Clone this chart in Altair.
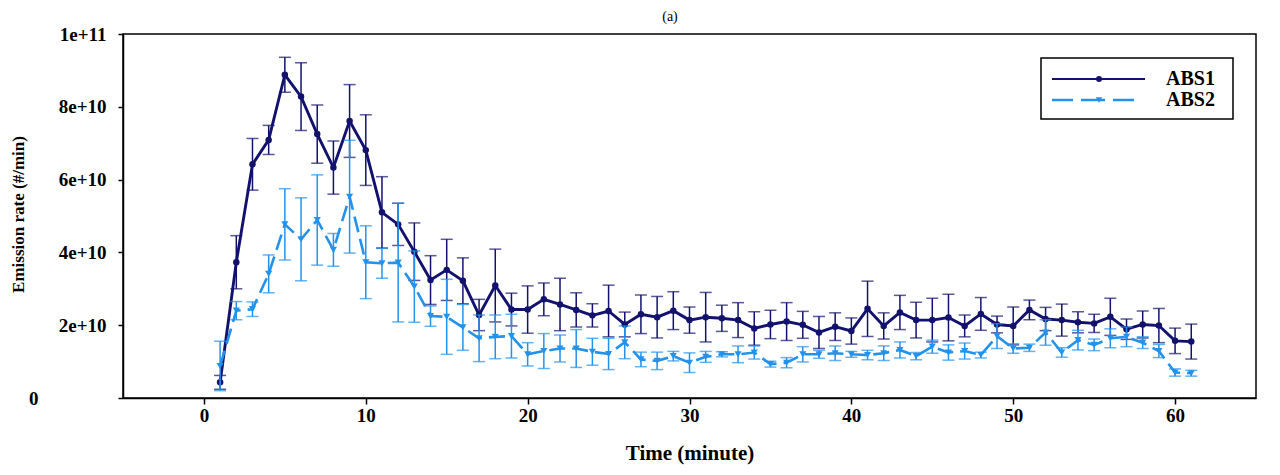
import altair as alt
import pandas as pd

minutes = list(range(1, 62))
abs1 = [4.3, 37.3, 64.2, 70.9, 88.8, 82.8, 72.5, 63.3, 76.1, 68.1, 51.0, 47.7, 40.2, 32.4, 35.2, 32.2,
        22.8, 30.9, 24.3, 24.3, 27.1, 25.7, 24.2, 22.7, 23.9, 20.2, 23.0, 22.2, 24.0, 21.4, 22.2, 21.9,
        21.4, 19.1, 20.2, 21.0, 20.1, 18.0, 19.6, 18.4, 24.5, 19.8, 23.5, 21.4, 21.4, 22.1, 19.8, 23.1,
        20.2, 19.8, 24.2, 21.7, 21.4, 20.8, 20.5, 22.3, 18.9, 20.2, 19.9, 15.7, 15.5]
abs1_err = [1.9, 7.3, 7.1, 4.0, 4.8, 9.3, 8.0, 7.3, 10.0, 9.7, 9.8, 5.8, 7.9, 6.7, 8.4, 6.3,
            4.3, 10.0, 4.5, 6.5, 4.5, 7.2, 4.7, 3.2, 7.1, 3.4, 5.3, 5.7, 5.2, 3.6, 6.8, 3.6,
            4.8, 4.6, 3.9, 5.2, 3.7, 4.4, 3.8, 3.6, 7.6, 3.6, 4.7, 4.9, 6.0, 6.4, 3.0, 4.5,
            2.3, 5.2, 2.7, 3.2, 4.4, 2.9, 2.5, 5.1, 2.8, 3.7, 4.7, 3.5, 4.8]
abs2 = [8.8, 24.0, 24.4, 34.1, 47.7, 43.6, 48.9, 40.7, 55.3, 37.3, 37.0, 37.2, 30.6, 22.5, 22.3, 19.4,
        16.4, 16.8, 17.0, 12.0, 12.9, 13.6, 13.6, 12.7, 12.1, 15.3, 10.6, 10.2, 11.5, 9.7, 11.3, 12.0,
        12.0, 12.5, 9.3, 9.7, 12.0, 12.0, 12.3, 12.0, 11.8, 12.3, 13.2, 11.5, 14.1, 12.5, 12.9, 11.8,
        17.0, 13.6, 13.8, 18.0, 12.5, 15.9, 14.6, 16.4, 16.8, 15.2, 12.9, 7.0, 6.8]
abs2_err = [6.8, 2.5, 2.0, 5.2, 9.8, 11.4, 12.4, 4.5, 15.5, 10.0, 4.1, 16.3, 9.8, 2.8, 10.3, 6.3,
            6.4, 6.0, 6.0, 3.2, 4.8, 3.7, 5.2, 3.7, 4.3, 4.5, 2.0, 2.4, 1.3, 2.7, 1.5, 0.7,
            2.3, 1.8, 0.8, 1.4, 2.1, 1.1, 2.0, 0.8, 1.3, 2.0, 2.2, 1.0, 1.8, 2.1, 2.2, 0.8,
            3.4, 1.3, 1.0, 3.5, 1.3, 2.7, 1.6, 2.6, 2.7, 1.6, 1.8, 1.0, 0.8]
series_names = ["ABS1", "ABS2"]
x_ticks = [0, 10, 20, 30, 40, 50, 60]
y_ticks = [0, 2e10, 4e10, 6e10, 8e10, 1e11]
UNIT = 1e9

rows = []
for name, vals, errs in [("ABS1", abs1, abs1_err), ("ABS2", abs2, abs2_err)]:
    for m, v, e in zip(minutes, vals, errs):
        rows.append({"series": name, "minute": m, "value": v * UNIT,
                     "lo": (v - e) * UNIT, "hi": (v + e) * UNIT})
df = pd.DataFrame(rows)

colors = {"ABS1": "#12126e", "ABS2": "#2392ec"}
FONT = "Liberation Serif"

xaxis = alt.Axis(values=x_ticks, title="Time (minute)", grid=False, tickSize=6, tickWidth=1.5,
                 tickColor="black", domainColor="black", domainWidth=1.5,
                 labelFont=FONT, labelFontWeight="bold", labelFontSize=19, labelColor="black",
                 labelPadding=2, labelFlush=False,
                 titleFont=FONT, titleFontWeight="bold", titleFontSize=21, titleColor="black",
                 titlePadding=17)
yaxis = alt.Axis(values=y_ticks, title="Emission rate (#/min)", grid=False, tickSize=5, tickWidth=1.5,
                 tickColor="black", domainColor="black", domainWidth=1.5,
                 labelExpr="datum.value == 0 ? '0' : (datum.value >= 1e11 ? '1e+11' : format(datum.value / 1e10, 'd') + 'e+10')",
                 labelFont=FONT, labelFontWeight="bold", labelFontSize=19, labelColor="black",
                 labelPadding={"condition": {"test": "datum.value == 0", "value": 80}, "value": 12},
                 labelFlush=False,
                 titleFont=FONT, titleFontWeight="bold", titleFontSize=17, titleColor="black",
                 titleX=-105, titleY=180, titleAngle=-90, titleAlign="center", titleBaseline="middle")

xs = alt.Scale(domain=[-5, 65], nice=False, zero=False)
ys = alt.Scale(domain=[0, 1e11], nice=False)
X = alt.X("minute:Q", scale=xs, axis=xaxis)


def series_layers(name, dash, shape, size, width):
    c = colors[name]
    base = alt.Chart(df).transform_filter(alt.datum.series == name)
    rule = base.mark_rule(color=c, strokeWidth=1.5).encode(
        x=X, y=alt.Y("lo:Q", scale=ys, axis=yaxis), y2="hi:Q")
    cap_lo = base.mark_tick(color=c, orient="horizontal", size=12, thickness=1.5).encode(
        x=X, y=alt.Y("lo:Q", scale=ys, axis=yaxis))
    cap_hi = base.mark_tick(color=c, orient="horizontal", size=12, thickness=1.5).encode(
        x=X, y=alt.Y("hi:Q", scale=ys, axis=yaxis))
    line_kw = dict(color=c, strokeWidth=width)
    if dash:
        line_kw["strokeDash"] = dash
    line = base.mark_line(**line_kw).encode(x=X, y=alt.Y("value:Q", scale=ys, axis=yaxis))
    pts = base.mark_point(filled=True, shape=shape, size=size, color=c, opacity=1).encode(
        x=X, y=alt.Y("value:Q", scale=ys, axis=yaxis))
    return [rule, cap_lo, cap_hi, line, pts]


layers = (series_layers("ABS1", None, "circle", 42, 2.9)
          + series_layers("ABS2", [16, 7], "triangle-down", 50, 2.6))

one = pd.DataFrame({"k": [0]})
box = alt.Chart(one).mark_rect(fill="white", stroke="black", strokeWidth=1.5).encode(
    x=alt.value(918), x2=alt.value(1110), y=alt.value(24), y2=alt.value(85))
leg1_line = alt.Chart(one).mark_rule(color=colors["ABS1"], strokeWidth=2).encode(
    x=alt.value(929), x2=alt.value(1022), y=alt.value(45))
leg1_pt = alt.Chart(one).mark_point(filled=True, shape="circle", size=35, color=colors["ABS1"], opacity=1).encode(
    x=alt.value(976), y=alt.value(45))
leg2_line = alt.Chart(one).mark_rule(color=colors["ABS2"], strokeWidth=2.6, strokeDash=[21, 8, 24, 8]).encode(
    x=alt.value(929), x2=alt.value(1011), y=alt.value(66))
leg2_pt = alt.Chart(one).mark_point(filled=True, shape="triangle-down", size=40, color=colors["ABS2"], opacity=1).encode(
    x=alt.value(976), y=alt.value(66))
leg_text = alt.Chart(pd.DataFrame({"label": series_names, "yy": [45, 66]})).mark_text(
    font=FONT, fontWeight="bold", fontSize=20, align="left", baseline="middle", color="black").encode(
    x=alt.value(1043), y=alt.Y("yy:Q", scale=None), text="label:N")
panel = alt.Chart(pd.DataFrame({"t": ["(a)"]})).mark_text(
    font=FONT, fontSize=14, align="center", baseline="top", color="black").encode(
    x=alt.value(547), y=alt.value(-24), text="t:N")

chart = alt.layer(*layers, box, leg1_line, leg1_pt, leg2_line, leg2_pt, leg_text, panel).properties(
    width=1133, height=364,
    padding={"left": 115, "top": 26, "right": 16, "bottom": 68},
    autosize=alt.AutoSizeParams(type="none"),
    background="white",
).configure_view(stroke="black", strokeWidth=1.5)

chart.save("out.html", embed_options={"renderer": "svg", "actions": False})
